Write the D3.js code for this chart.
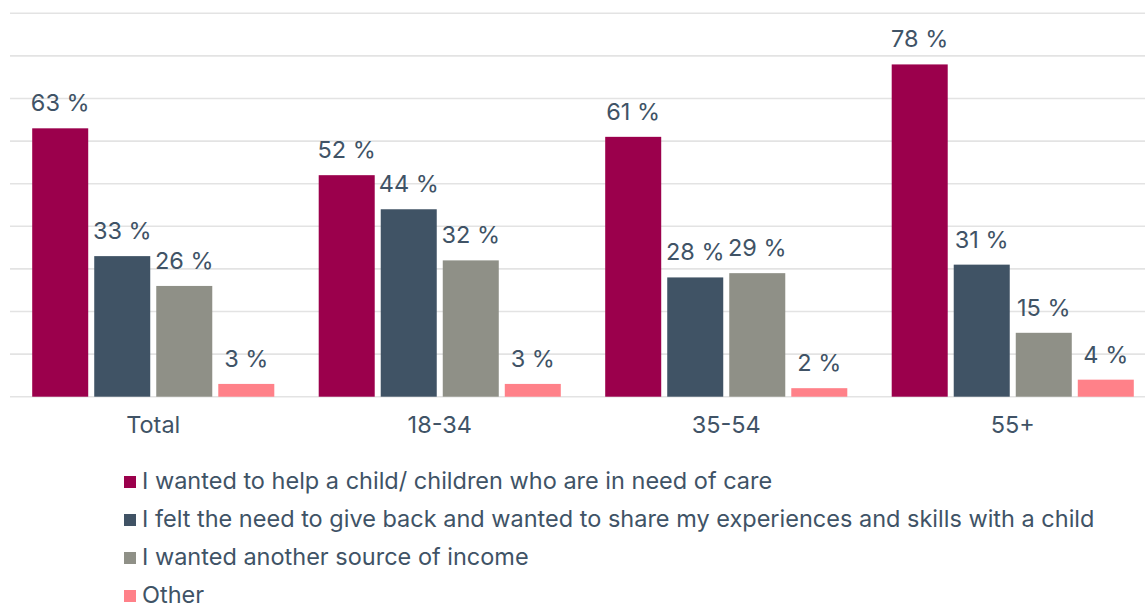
<!DOCTYPE html>
<html>
<head>
<meta charset="utf-8">
<script src="https://cdn.jsdelivr.net/npm/d3@7/dist/d3.min.js"></script>
<style>
  html, body { margin: 0; padding: 0; background: #fff; }
  svg { display: block; font-family: Inter, "Noto Sans", sans-serif; }
</style>
</head>
<body>
<svg id="chart" width="1145" height="605"></svg>
<script>
// Age groups along the x axis
const categories = ["Total", "18-34", "35-54", "55+"];
// Reasons for becoming a foster carer (legend entries)
const seriesNames = [
  "I wanted to help a child/ children who are in need of care",
  "I felt the need to give back and wanted to share my experiences and skills with a child",
  "I wanted another source of income",
  "Other"
];
// Percentages per series, one value per age group
const helpChild   = [63, 52, 61, 78];
const giveBack    = [33, 44, 28, 31];
const income      = [26, 32, 29, 15];
const other       = [3, 3, 2, 4];
const seriesValues = [helpChild, giveBack, income, other];
const seriesColors = ["#9b004c", "#405365", "#8f9087", "#ff8189"];
const gridTicks = [0, 10, 20, 30, 40, 50, 60, 70, 80, 90];

const svg = d3.select("#chart");
const textColor = "#405366";
const fontSize = 23.5;

const x0 = d3.scaleBand()
  .domain(categories)
  .range([10, 1156])
  .paddingInner(0.155)
  .paddingOuter(0.0775);

const x1 = d3.scaleBand()
  .domain(d3.range(seriesNames.length))
  .range([0, x0.bandwidth()])
  .paddingInner(0.097);

const y = d3.scaleLinear().domain([0, 90]).range([396.7, 13.3]);

// Horizontal gridlines
svg.append("g")
  .selectAll("line")
  .data(gridTicks)
  .join("line")
  .attr("x1", 10)
  .attr("x2", 1145)
  .attr("y1", d => y(d))
  .attr("y2", d => y(d))
  .attr("stroke", "#e3e3e3")
  .attr("stroke-width", 1.6);

// Flatten into rows for drawing
const rows = [];
categories.forEach((c, ci) => {
  seriesValues.forEach((vals, si) => {
    rows.push({ cat: c, s: si, v: vals[ci] });
  });
});

// Bars
svg.append("g")
  .selectAll("rect")
  .data(rows)
  .join("rect")
  .attr("x", d => x0(d.cat) + x1(d.s))
  .attr("y", d => y(d.v))
  .attr("width", x1.bandwidth())
  .attr("height", d => y(0) - y(d.v))
  .attr("fill", d => seriesColors[d.s]);

// Value labels above bars
svg.append("g")
  .selectAll("text")
  .data(rows)
  .join("text")
  .attr("x", d => x0(d.cat) + x1(d.s) + x1.bandwidth() / 2)
  .attr("y", d => y(d.v) - 17)
  .attr("text-anchor", "middle")
  .attr("font-size", fontSize)
  .attr("fill", textColor)
  .text(d => d.v + " %");

// Category axis labels
const xAxis = d3.axisBottom(x0).tickSize(0).tickPadding(0);
const axisG = svg.append("g")
  .attr("transform", `translate(0, ${y(0)})`)
  .call(xAxis);
axisG.select(".domain").remove();
axisG.selectAll("text")
  .attr("font-family", "Inter, 'Noto Sans', sans-serif")
  .attr("font-size", fontSize)
  .attr("fill", textColor)
  .attr("dy", null)
  .attr("y", 36);

// Legend (one row per series, y is the text baseline)
const legend = svg.append("g")
  .selectAll("g")
  .data(seriesNames)
  .join("g")
  .attr("transform", (d, i) => `translate(124, ${489 + i * 38})`);
legend.append("rect")
  .attr("x", 0)
  .attr("y", -13)
  .attr("width", 12)
  .attr("height", 12)
  .attr("fill", (d, i) => seriesColors[i]);
legend.append("text")
  .attr("x", 18)
  .attr("y", 0)
  .attr("font-size", fontSize)
  .attr("fill", textColor)
  .text(d => d);
</script>
</body>
</html>
